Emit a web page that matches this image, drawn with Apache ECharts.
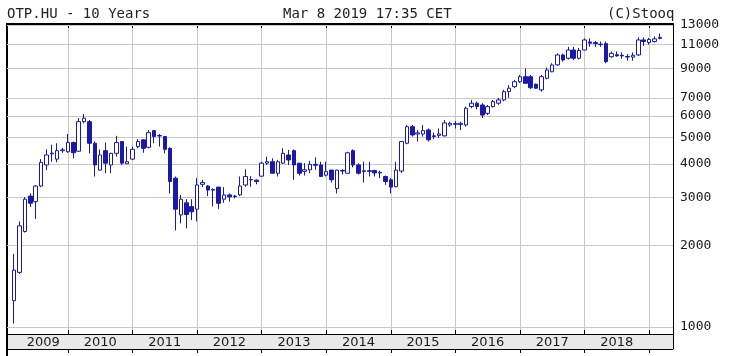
<!DOCTYPE html>
<html><head><meta charset="utf-8">
<script src="https://cdn.jsdelivr.net/npm/echarts@6/dist/echarts.min.js"></script>
<style>html,body{margin:0;padding:0;background:#fff}#c{width:730px;height:356px}</style>
</head><body><div id="c"></div>
<script>
// Monthly candles, OTP.HU
const dates = [
 '2009-03','2009-04','2009-05','2009-06','2009-07','2009-08','2009-09','2009-10','2009-11','2009-12',
 '2010-01','2010-02','2010-03','2010-04','2010-05','2010-06','2010-07','2010-08','2010-09','2010-10','2010-11','2010-12',
 '2011-01','2011-02','2011-03','2011-04','2011-05','2011-06','2011-07','2011-08','2011-09','2011-10','2011-11','2011-12',
 '2012-01','2012-02','2012-03','2012-04','2012-05','2012-06','2012-07','2012-08','2012-09','2012-10','2012-11','2012-12',
 '2013-01','2013-02','2013-03','2013-04','2013-05','2013-06','2013-07','2013-08','2013-09','2013-10','2013-11','2013-12',
 '2014-01','2014-02','2014-03','2014-04','2014-05','2014-06','2014-07','2014-08','2014-09','2014-10','2014-11','2014-12',
 '2015-01','2015-02','2015-03','2015-04','2015-05','2015-06','2015-07','2015-08','2015-09','2015-10','2015-11','2015-12',
 '2016-01','2016-02','2016-03','2016-04','2016-05','2016-06','2016-07','2016-08','2016-09','2016-10','2016-11','2016-12',
 '2017-01','2017-02','2017-03','2017-04','2017-05','2017-06','2017-07','2017-08','2017-09','2017-10','2017-11','2017-12',
 '2018-01','2018-02','2018-03','2018-04','2018-05','2018-06','2018-07','2018-08','2018-09','2018-10','2018-11','2018-12',
 '2019-01','2019-02','2019-03'];

const opens = [
 1250,1590,2250,3040,2900,3310,3960,4350,4160,4470,
 4430,4790,4450,5720,5720,4760,3790,4470,3960,4370,4830,4000,
 4160,4630,4900,4600,5300,5080,5040,4560,3540,2590,2870,2780,
 2720,3360,3310,3210,3280,2960,3070,3030,3070,3340,3490,3480,
 3600,4020,4070,3690,4020,4310,4470,4020,3750,3800,3980,3960,
 3630,3790,3240,3760,3690,4470,3960,3740,3770,3780,3700,3590,
 3490,3290,3760,4760,5480,5150,5150,5330,5070,5090,5070,5560,
 5620,5580,5560,6500,6690,6590,6140,6500,6690,6880,7380,7700,
 8030,8380,8380,7860,7490,8270,8740,9260,10080,9800,10510,9800,
 10510,11260,11200,11050,11100,9930,10100,10050,9950,9900,10080,11450,
 11200,11300,11600];
const closes = [
 1620,2360,2960,2860,3310,4050,4310,4380,4470,4500,
 4790,4390,5720,5890,4760,3960,4310,4020,4370,4790,4020,4070,
 4520,4830,4560,5210,5040,5065,4520,3440,2720,2960,2600,2660,
 3340,3410,3200,3200,2860,3070,3020,3040,3310,3590,3500,3440,
 4020,4070,3690,4070,4370,4130,3960,3690,3800,3980,3950,3590,
 3740,3490,3790,3780,4390,3960,3690,3770,3750,3700,3720,3440,
 3280,3790,4830,5480,5110,5200,5300,4900,5040,5150,5660,5640,
 5600,5640,6410,6690,6500,6050,6500,6780,6880,7380,7600,8030,
 8380,7920,7630,7600,8380,8870,9260,10080,9660,10510,9800,10470,
 11450,11140,11100,11000,9520,10220,10000,10000,9900,10050,11450,11300,
 11500,11550,11700];
const lows = [
 1030,1570,2230,2770,2500,3280,3790,4070,4050,4390,
 4390,4190,4430,5640,4370,3590,3770,3690,3690,4250,3960,4000,
 4130,4560,4390,4560,4760,4630,4370,3110,2270,2410,2310,2480,
 2450,3280,3040,2780,2720,2870,2900,2980,3040,3290,3290,3360,
 3590,3960,3690,3590,4000,3960,3490,3620,3620,3690,3800,3590,
 3590,3410,3110,3650,3690,3880,3650,3410,3590,3590,3540,3340,
 3110,3280,3700,4720,5040,4830,5040,4830,4930,4980,5040,5480,
 5400,5330,5480,6410,6350,5900,6050,6450,6600,6800,7000,7600,
 7950,7900,7550,7550,7380,8200,8700,9200,9520,9700,9650,9700,
 10500,10800,10800,10800,9390,9840,9930,9750,9600,9600,10000,10900,
 11000,11200,11500];
const highs = [
 1860,2450,3010,3110,3340,4160,4520,4700,4760,4580,
 5150,4830,5900,6110,5800,4830,4520,4790,4390,5070,4830,4630,
 4630,4930,4930,5330,5330,5150,5070,4600,3590,3070,2960,2960,
 3540,3490,3340,3250,3290,3280,3110,3070,3590,3820,3600,3500,
 4070,4250,4190,4130,4560,4500,4520,4030,4020,4100,4220,4070,
 4070,3800,3800,3820,4430,4520,4020,4070,4070,3800,3770,3620,
 3540,4070,4850,5560,5560,5330,5560,5400,5210,5400,5800,5720,
 5750,5720,6500,6880,6780,6690,6590,6880,7000,7500,7800,8150,
 8500,9000,8500,7900,8500,9050,9390,10220,10200,10800,10800,10700,
 11600,11600,11350,11300,11300,10380,10380,10300,10150,10300,11700,11700,
 11650,11800,12100];

const yearLabels = ['2009','2010','2011','2012','2013','2014','2015','2016','2017','2018'];
const yearStarts = ['2010','2011','2012','2013','2014','2015','2016','2017','2018','2019'];
const priceTicks = [1000,2000,3000,4000,5000,6000,7000,9000,11000,13000];

// month index since Jan 2009
function monthIdx(s){ const p = s.split('-'); return (+p[0]-2009)*12 + (+p[1]-1); }
const candles = dates.map((d,i) => [monthIdx(d), opens[i], closes[i], lows[i], highs[i]]);
const tickPos = yearStarts.map(y => (+y-2009)*12);
const labelPos = yearLabels.map(y => y === '2009' ? 7.4 : (+y-2009)*12 + 6);

const XMIN = 0.67, XMAX = 124.45, YMIN = 942, YMAX = 13110;
const BLUE = '#1a1aa6';
const mono = '"DejaVu Sans Mono", monospace';

const baseX = {type:'value', min:XMIN, max:XMAX, gridIndex:0};
const chart = echarts.init(document.getElementById('c'), null, {renderer:'canvas'});
chart.setOption({
  animation:false,
  backgroundColor:'#fff',
  grid:{left:7, right:57, top:24, bottom:22},
  xAxis:[
    Object.assign({}, baseX, {position:'bottom',
      axisLine:{show:true, onZero:false, lineStyle:{color:'#000', width:1}},
      axisTick:{show:true, inside:true, length:4, customValues:tickPos, lineStyle:{color:'#000'}},
      axisLabel:{show:false},
      splitLine:{show:true, lineStyle:{color:'#c8c8c8', width:1}}}),
    Object.assign({}, baseX, {position:'bottom', offset:0,
      axisLine:{show:false}, axisTick:{show:false}, splitLine:{show:false},
      axisLabel:{show:true, customValues:labelPos, margin:2, color:'#1a1a1a',
        fontFamily:'"DejaVu Sans", sans-serif', fontSize:13,
        formatter: v => String(Math.floor(v/12)+2009)}}),
    Object.assign({}, baseX, {position:'bottom', offset:15,
      axisLine:{show:true, onZero:false, lineStyle:{color:'#000', width:1}},
      axisTick:{show:true, inside:false, length:4, customValues:tickPos, lineStyle:{color:'#000'}},
      axisLabel:{show:false}, splitLine:{show:false}}),
    Object.assign({}, baseX, {position:'top',
      axisLine:{show:true, onZero:false, lineStyle:{color:'#000', width:2}},
      axisTick:{show:true, inside:true, length:4, customValues:tickPos, lineStyle:{color:'#000'}},
      axisLabel:{show:false}, splitLine:{show:false}})
  ],
  yAxis:[
    {type:'log', logBase:10, min:YMIN, max:YMAX, position:'right',
      axisLine:{show:true, lineStyle:{color:'#000', width:1}},
      axisTick:{show:false}, axisLabel:{show:false}, splitLine:{show:false}},
    {type:'log', logBase:10, min:YMIN, max:YMAX, position:'left',
      axisLine:{show:true, lineStyle:{color:'#000', width:2}},
      axisTick:{show:false}, axisLabel:{show:false}, splitLine:{show:false}}
  ],
  series:[{
    type:'candlestick', xAxisIndex:0, yAxisIndex:0,
    data:candles, barWidth:4, z:3,
    itemStyle:{color:'#ffffff', color0:BLUE, borderColor:BLUE, borderColor0:BLUE, borderWidth:1},
    markLine:{
      silent:true, symbol:['none','none'], z:1, animation:false,
      lineStyle:{color:'#c8c8c8', width:1, type:'solid'},
      label:{show:true, position:'end', distance:7, color:'#1a1a1a', fontFamily:mono, fontSize:13,
        formatter: p => String(p.value)},
      emphasis:{disabled:true},
      data: priceTicks.map(v => ({yAxis:v}))
    }
  }],
  graphic:[
    {type:'rect', z:-1, silent:true, shape:{x:7, y:334, width:666, height:15}, style:{fill:'#e9e9e9'}},
    {type:'line', silent:true, shape:{x1:7, y1:334, x2:7, y2:356}, style:{stroke:'#000', lineWidth:2}},
    {type:'line', silent:true, shape:{x1:673.5, y1:334, x2:673.5, y2:349}, style:{stroke:'#000', lineWidth:1}},
    {type:'text', silent:true, x:7, y:14, style:{text:'OTP.HU - 10 Years', fill:'#222', font:'14px "DejaVu Sans Mono", monospace', verticalAlign:'middle'}},
    {type:'text', silent:true, x:283, y:14, style:{text:'Mar 8 2019 17:35 CET', fill:'#222', font:'14px "DejaVu Sans Mono", monospace', verticalAlign:'middle'}},
    {type:'text', silent:true, x:607, y:14, style:{text:'(C)Stooq', fill:'#222', font:'14px "DejaVu Sans Mono", monospace', verticalAlign:'middle'}}
  ]
});
</script></body></html>
